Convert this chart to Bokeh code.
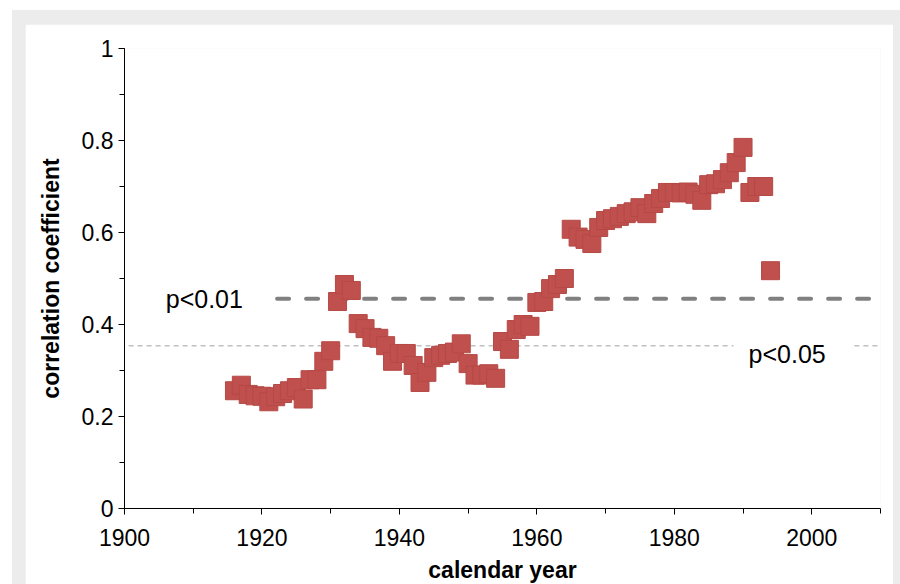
from bokeh.plotting import figure
from bokeh.layouts import column
from bokeh.models import Label, Range1d, FixedTicker
from bokeh.embed import file_html
from bokeh.resources import INLINE

years = list(range(1916, 1995))
corr = [0.256, 0.268, 0.248, 0.245, 0.244, 0.232, 0.243, 0.250, 0.256, 0.263,
        0.238, 0.280, 0.280, 0.320, 0.343, 0.450, 0.487, 0.474, 0.402, 0.391,
        0.372, 0.370, 0.354, 0.320, 0.337, 0.337, 0.311, 0.274, 0.296, 0.328,
        0.333, 0.337, 0.340, 0.358, 0.315, 0.290, 0.290, 0.293, 0.283, 0.363,
        0.346, 0.389, 0.400, 0.396, 0.448, 0.450, 0.478, 0.487, 0.500, 0.607,
        0.590, 0.585, 0.576, 0.611, 0.626, 0.630, 0.635, 0.641, 0.645, 0.654,
        0.641, 0.663, 0.674, 0.687, 0.687, 0.686, 0.688, 0.683, 0.670, 0.704,
        0.706, 0.715, 0.730, 0.752, 0.785, 0.687, 0.700, 0.700, 0.517]

p01 = 0.456
p05 = 0.354
x_ticks = [1900, 1920, 1940, 1960, 1980, 2000]
y_ticks = [0, 0.2, 0.4, 0.6, 0.8, 1]

FONT = "Liberation Sans"

p = figure(frame_width=756, frame_height=460, output_backend="svg", toolbar_location=None,
           x_range=Range1d(1900, 2010), y_range=Range1d(0, 1),
           min_border_left=99, min_border_right=13, min_border_top=24, min_border_bottom=76)
p.outline_line_color = None
p.xgrid.visible = False
p.ygrid.visible = False
p.background_fill_color = "white"
p.border_fill_color = "white"

# axes
p.xaxis.ticker = FixedTicker(ticks=x_ticks, minor_ticks=list(range(1900, 2011, 10)))
p.yaxis.ticker = FixedTicker(ticks=y_ticks, minor_ticks=[round(0.1 * i, 1) for i in range(11)])
for ax in (p.xaxis[0], p.yaxis[0]):
    ax.axis_line_color = "black"
    ax.major_tick_line_color = "black"
    ax.minor_tick_line_color = "black"
    ax.major_tick_in = 0
    ax.major_tick_out = 6
    ax.minor_tick_in = 0
    ax.minor_tick_out = 5
    ax.major_label_text_font = FONT
    ax.major_label_text_font_size = "23px"
    ax.major_label_text_color = "black"
    ax.axis_label_text_font = FONT
    ax.axis_label_text_font_size = "23px"
    ax.axis_label_text_font_style = "bold"
    ax.axis_label_text_color = "black"
p.xaxis.axis_label = "calendar year"
p.yaxis.axis_label = "correlation coefficient"
p.yaxis.major_label_overrides = {0: "0", 1: "1"}
p.xaxis.major_label_standoff = 14
p.xaxis.axis_label_standoff = 8
p.yaxis.major_label_standoff = 5
p.yaxis.axis_label_standoff = 15

# significance lines
p.segment(x0=[1922.2], y0=[p01], x1=[2010], y1=[p01], line_color="#808080",
          line_width=4, line_dash="12 17", line_cap="round")
p.segment(x0=[1900.6, 2006.2], y0=[p05, p05], x1=[1988.6, 2010], y1=[p05, p05],
          line_color="#c0c0c0", line_width=1.5, line_dash="5 4")

p.add_layout(Label(x=1906, y=p01, text="p<0.01", text_font=FONT, text_font_size="25px",
                   text_baseline="middle", text_align="left", text_color="black"))
p.add_layout(Label(x=1990.8, y=0.336, text="p<0.05", text_font=FONT, text_font_size="25px",
                   text_baseline="middle", text_align="left", text_color="black"))

p.scatter(years, corr, marker="square", size=18, fill_color="#c0504d",
          line_color="#b54946", line_width=1)

page = column(p, styles={"background-color": "#ececec", "padding": "14px 7px 0px 13px"},
              margin=(10, 0, 0, 12))

open("out.html", "w").write(file_html(page, INLINE))
